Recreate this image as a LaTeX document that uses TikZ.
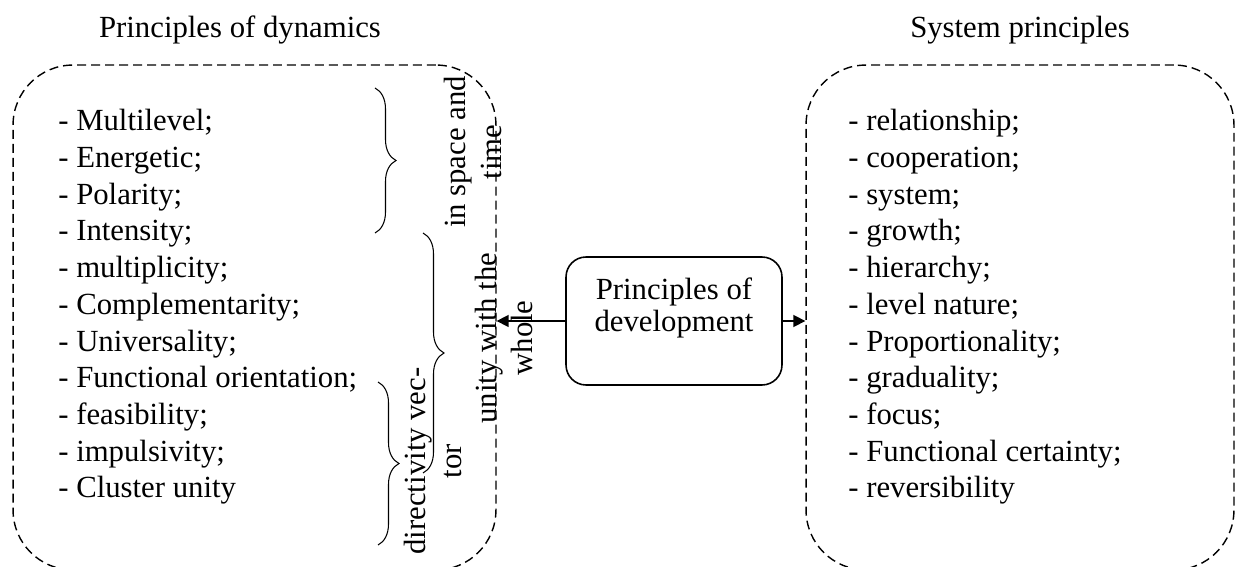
\documentclass[tikz,border=0pt]{standalone}
\usepackage{fontspec}
\setmainfont{Liberation Serif}
\usetikzlibrary{arrows.meta, decorations.pathreplacing, positioning}

\begin{document}
\begin{tikzpicture}[x=0.02cm, y=-0.02cm,
    every node/.style={font=\fontsize{17.5}{20.9}\selectfont},
    group/.style={draw, line width=0.8pt, dash pattern=on 0.18cm off 0.1cm, rounded corners=1.2cm, minimum height=10.1cm},
    items/.style={align=left, inner sep=0pt, anchor=north west},
    turned/.style={rotate=90, align=center, inner sep=0pt},
    brc/.style={decorate, decoration={brace, amplitude=0.42cm}, line width=0.6pt},
    arr/.style={-{Triangle[length=0.24cm, width=0.24cm]}, line width=0.9pt}]
\useasboundingbox (0,0) rectangle (1235,567);
\clip (0,0) rectangle (1235,567);
%\draw[help lines] (0,0) grid (1235,567);
\begin{scope}
    \node (dyntitle) at (240,30) {Principles of dynamics};
    \node (systitle) at (1020,30) {System principles};

    \node [group, minimum width=9.66cm] (dyn) at (254.5,317.5) {};
    \node [group, minimum width=8.56cm] (sys) at (1020,317.5) {};

    \node [items] (dynlist) at (58,109) {- Multilevel;\\- Energetic;\\- Polarity;\\- Intensity;\\- multiplicity;\\- Complementarity;\\- Universality;\\- Functional orientation;\\- feasibility;\\- impulsivity;\\- Cluster unity};
    \node [items] (syslist) at (848,109) {- relationship;\\- cooperation;\\- system;\\- growth;\\- hierarchy;\\- level nature;\\- Proportionality;\\- graduality;\\- focus;\\- Functional certainty;\\- reversibility};

    \draw [brc] (375,88) -- (375,233);
    \draw [brc] (423,233) -- (423,473);
    \draw [brc] (378,382) -- (378,545);

    \node [turned] (space) at (473,152) {in space and\\time};
    \node [turned] (whole) at (504,338) {unity with the\\whole};
    \node [turned] (vector) at (433,461) {directivity vec-\\tor};

    \node [draw, line width=0.9pt, rounded corners=0.4cm, minimum width=4.32cm, minimum height=2.56cm] (dev) at (674,321) {};
    \node [align=center, font=\fontsize{17.5}{18}\selectfont] (devtxt) at (674,308) {Principles of\\development};

    \draw [arr] (dev.west) -- (dev.west -| dyn.east);
    \draw [arr] (dev.east) -- (dev.east -| sys.west);
\end{scope}
\end{tikzpicture}
\end{document}
